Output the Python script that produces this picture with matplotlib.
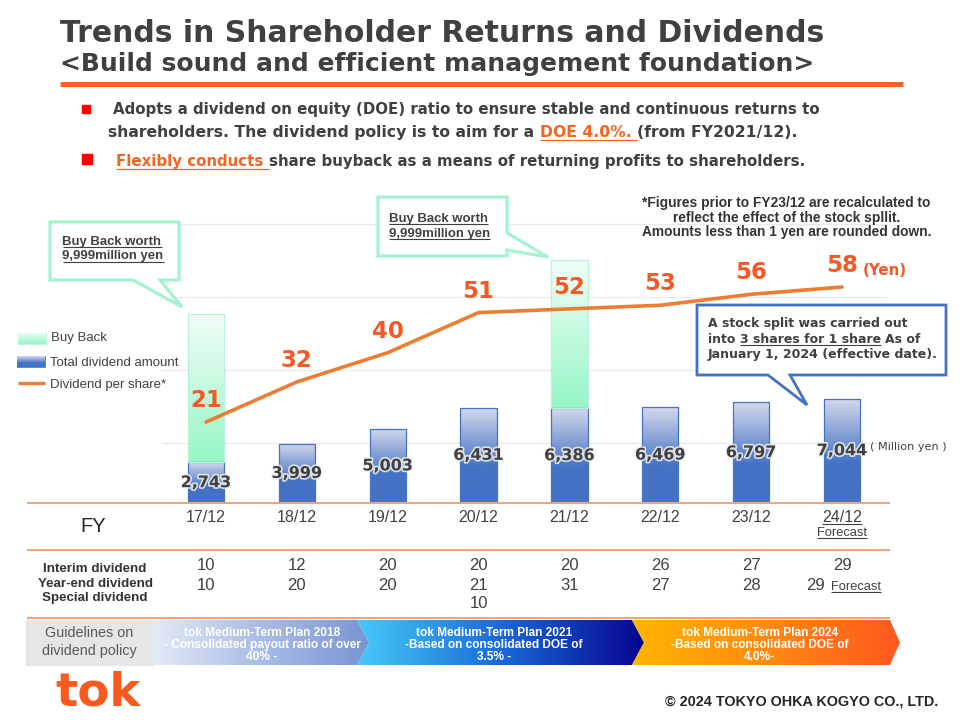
import numpy as np
import matplotlib
matplotlib.use('Agg')
import matplotlib.pyplot as plt
from matplotlib.patches import Polygon, Rectangle
from matplotlib.colors import LinearSegmentedColormap
from matplotlib import patheffects as pe

# ---------------- data ----------------
fy_labels = ['17/12', '18/12', '19/12', '20/12', '21/12', '22/12', '23/12', '24/12']
total_dividend = [2743, 3999, 5003, 6431, 6386, 6469, 6797, 7044]   # million yen
buyback = [9999, 0, 0, 0, 9999, 0, 0, 0]                             # million yen
dps = [21, 32, 40, 51, 52, 53, 56, 58]                                # yen
interim = ['10', '12', '20', '20', '20', '26', '27', '29']
year_end = ['10', '20', '20', '21', '31', '27', '28', '29']
special = ['', '', '', '10', '', '', '', '']
row_labels = ['Interim dividend', 'Year-end dividend', 'Special dividend']
plans = [
    ['tok Medium-Term Plan 2018', '- Consolidated payout ratio of over', '40% -'],
    ['tok Medium-Term Plan 2021', '-Based on consolidated DOE of', '3.5% -'],
    ['tok Medium-Term Plan 2024', '-Based on consolidated DOE of', '4.0%-'],
]

# ---------------- style ----------------
W, H = 960, 720
DARK = '#404040'
ORANGE = '#f26522'
NUM_OR = '#f15a24'
LINE_OR = '#ed7d31'
RULE = '#f3a47c'
BLUE = '#4472c4'
FV = 'DejaVu Sans'
FA = 'Liberation Sans'

fig = plt.figure(figsize=(9.6, 7.2), dpi=100)
fig.patch.set_facecolor('white')
R = fig.canvas.get_renderer()


def grad(stops, n=256, horizontal=False):
    cmap = LinearSegmentedColormap.from_list('g', stops)
    arr = cmap(np.linspace(0, 1, n))
    return arr[None, :, :] if horizontal else arr[:, None, :]


BLUE_G = grad([(0, '#d4d9ec'), (0.62, '#4472c4'), (1, '#4472c4')])
GREEN_G = grad([(0, '#f2fdf8'), (1, '#95f6c5')])

# ---------------- chart axes ----------------
X0, X1, YT, YB = 27, 890, 200, 503
ax = fig.add_axes([X0 / W, 1 - YB / H, (X1 - X0) / W, (YB - YT) / H])
ax2 = ax.twinx()
for a in (ax, ax2):
    a.set_xticks([])
    a.set_yticks([])
    for s in a.spines.values():
        s.set_visible(False)
    a.patch.set_alpha(0)

xs = np.arange(len(fy_labels))
step_px = 90.86
XL = (-(206 - X0) / step_px, (X1 - 206) / step_px)
BAR_MAX = (YB - YT) / 0.01483
L0 = -(YB - 498.7) / 3.65
L1 = L0 + (YB - YT) / 3.65

# gridlines (line-axis units converted to bar-axis units)
grid_line_units = [15.3, 35.3, 55.3, 75.3]
ax.hlines([(g - L0) / (L1 - L0) * BAR_MAX for g in grid_line_units], -0.5, 7.5,
          color='#e9e9e9', lw=0.9, zorder=0)

bw = 0.40
b_div = ax.bar(xs, total_dividend, bw, facecolor='none', edgecolor=BLUE, lw=0.9, zorder=3)
b_bb = ax.bar(xs, buyback, bw, bottom=total_dividend, facecolor='none',
              edgecolor='#b4f3d6', lw=0.9, zorder=3)
for bars, g in ((b_div, BLUE_G), (b_bb, GREEN_G)):
    for rect in bars:
        h = rect.get_height()
        if h <= 0:
            rect.set_visible(False)
            continue
        x, y, w = rect.get_x(), rect.get_y(), rect.get_width()
        im = ax.imshow(g, extent=(x, x + w, y, y + h), aspect='auto', origin='upper',
                       zorder=2, interpolation='bilinear')
        im.set_clip_path(rect)

for x, v in zip(xs, total_dividend):
    ax.text(x, v / 2, f'{v:,}', ha='center', va='center', fontsize=11.5, fontweight='bold',
            color=DARK, family=FV, zorder=6,
            path_effects=[pe.withStroke(linewidth=2.4, foreground='#f0f0f0', alpha=0.85)])

ax.set_xlim(*XL)
ax.set_ylim(0, BAR_MAX)
ax.set_aspect('auto')

ax2.plot(xs, dps, color=LINE_OR, lw=2.6, solid_capstyle='round', zorder=4)
for x, v in zip(xs, dps):
    ax2.annotate(str(v), (x, v), xytext=(0, 15.5), textcoords='offset points', ha='center',
                 va='center', fontsize=16.5, fontweight='bold', color=NUM_OR, family=FV, zorder=6)
ax2.set_ylim(L0, L1)
ax2.set_xlim(*XL)

# ---------------- overlay axes in pixel coords ----------------
ov = fig.add_axes([0, 0, 1, 1], zorder=10)
ov.set_xlim(0, W)
ov.set_ylim(H, 0)
ov.axis('off')
ov.patch.set_alpha(0)


def colx(i):
    return ax.transData.transform((i, 0))[0]


def txt(x, y, s, size=10, color=DARK, weight='normal', family=FV, ha='left', va='baseline',
        width=None, underline=False, ul_off=2.2, ul_lw=0.8, **kw):
    t = ov.text(x, y, s, fontsize=size, color=color, fontweight=weight, family=family,
                ha=ha, va=va, **kw)
    if width:
        w = t.get_window_extent(R).width
        t.set_fontsize(size * width / w)
    if underline:
        bb = t.get_window_extent(R)
        ov.plot([bb.x0, bb.x1], [y + ul_off, y + ul_off], color=color, lw=ul_lw,
                solid_capstyle='butt')
    return t


def space_w(size, weight, family):
    a = ov.text(0, 0, 'x x', fontsize=size, fontweight=weight, family=family)
    b = ov.text(0, 0, 'xx', fontsize=size, fontweight=weight, family=family)
    w = a.get_window_extent(R).width - b.get_window_extent(R).width
    a.remove()
    b.remove()
    return w


def runs(x, y, parts, size, weight='bold', family=FV, width=None, ul_off=2.5, ul_lw=0.9):
    # parts: (text, color, underline_mode, gap_after)  underline_mode: '', 'u', 'U'(incl. gap)
    def build(sz):
        sw = space_w(sz, weight, family)
        cx = x
        items = []
        for s, c, u, g in parts:
            t = ov.text(cx, y, s, fontsize=sz, color=c, fontweight=weight, family=family,
                        ha='left', va='baseline')
            bb = t.get_window_extent(R)
            items.append((t, c, u, bb.x0, bb.x1 + (sw if u == 'U' else 0)))
            cx = bb.x1 + (sw if g else 0)
        return items, cx

    items, end = build(size)
    if width:
        for it in items:
            it[0].remove()
        size = size * width / (end - x)
        items, end = build(size)
    for t, c, u, a0, a1 in items:
        if u:
            ov.plot([a0, a1], [y + ul_off, y + ul_off], color=c, lw=ul_lw, solid_capstyle='butt')
    return size


# ---- header ----
txt(60, 42, 'Trends in Shareholder Returns and Dividends', size=20, weight='bold', width=766)
txt(60, 71, '<Build sound and efficient management foundation>', size=16, weight='bold', width=753)
ov.plot([60, 903], [84, 84], color=ORANGE, lw=3.6, solid_capstyle='butt')

ov.add_patch(Rectangle((82, 105), 8, 8, color='#ff0000'))
ov.add_patch(Rectangle((82, 154), 10, 10, color='#ff0000'))
bsize = runs(113, 114, [('Adopts a dividend on equity (DOE) ratio to ensure stable and continuous returns to',
                         DARK, '', False)], 11, width=706)
runs(108, 137, [('shareholders. The dividend policy is to aim for a', DARK, '', True),
                ('DOE 4.0%.', ORANGE, 'U', True),
                ('(from FY2021/12).', DARK, '', False)], bsize, width=687)
runs(116, 166, [('Flexibly conducts', ORANGE, 'U', True),
                ('share buyback as a means of returning profits to shareholders.', DARK, '', False)],
     bsize, width=688)

# ---- footnote ----
foot = ['*Figures prior to FY23/12 are recalculated to',
        'reflect the effect of the stock spllit.',
        'Amounts less than 1 yen are rounded down.']
t0 = txt(786.5, 206.7, foot[0], size=9, weight='bold', family=FA, ha='center', width=289,
         color='#333333')
fs = t0.get_fontsize()
txt(786.5, 221.7, foot[1], size=fs, weight='bold', family=FA, ha='center', color='#333333')
txt(786.5, 235.7, foot[2], size=fs, weight='bold', family=FA, ha='center', color='#333333')

# ---- legend ----
for (lx0, ly0, lx1, ly1), g in (((18, 332, 46, 344), GREEN_G), ((17, 356, 45, 367), BLUE_G)):
    r = Rectangle((lx0, ly0), lx1 - lx0, ly1 - ly0, facecolor='none',
                  edgecolor=(BLUE if g is BLUE_G else '#b4f3d6'), lw=0.6)
    ov.add_patch(r)
    im = ov.imshow(g, extent=(lx0, lx1, ly1, ly0), aspect='auto', origin='upper', zorder=1)
    im.set_clip_path(r)
ov.plot([18, 45], [383, 383], color=LINE_OR, lw=2.4, solid_capstyle='butt')
lt = txt(50, 366, 'Total dividend amount', size=9, family=FA, width=130)
lsz = lt.get_fontsize()
txt(51, 340.7, 'Buy Back', size=lsz, family=FA)
txt(50, 387.7, 'Dividend per share*', size=lsz, family=FA)

# ---- callouts ----
ov.add_patch(Polygon([(50, 222), (179, 222), (179, 280), (160, 280), (182, 307), (133, 280), (50, 280)],
                     closed=True, facecolor='white', edgecolor='#a4f2cf', lw=2.3, zorder=2))
ov.add_patch(Polygon([(378, 197), (507, 197), (507, 233), (548, 257), (507, 250), (507, 256), (378, 256)],
                     closed=True, facecolor='white', edgecolor='#a4f2cf', lw=2.3, zorder=2))
ov.add_patch(Polygon([(697, 305), (946, 305), (946, 375), (790, 375), (807, 405), (768, 375), (697, 375)],
                     closed=True, facecolor='white', edgecolor=BLUE, lw=2.0, zorder=2))

c1 = txt(62.5, 245, 'Buy Back worth', size=9, weight='bold', family=FA, width=100,
         underline=True, zorder=3)
csz = c1.get_fontsize()
txt(62.5, 259.5, '9,999million yen', size=csz, weight='bold', family=FA, underline=True, zorder=3)
txt(389.3, 221.7, 'Buy Back worth', size=csz, weight='bold', family=FA, underline=True, zorder=3)
txt(389.3, 236.7, '9,999million yen', size=csz, weight='bold', family=FA, underline=True, zorder=3)

s3 = txt(708, 358.3, 'January 1, 2024 (effective date).', size=10, weight='bold', width=230, zorder=3)
ssz = s3.get_fontsize()
txt(708, 326.7, 'A stock split was carried out', size=ssz, weight='bold', zorder=3)
runs(708, 342.7, [('into', DARK, '', True), ('3 shares for 1 share', DARK, 'u', True),
                  ('As of', DARK, '', False)], ssz, ul_off=2.2, ul_lw=0.8)

txt(863, 275, '(Yen)', size=11, weight='bold', color=NUM_OR, width=44)
txt(870, 447.3, '( Million yen )', size=8, va='center', width=77)

# ---- table ----
for yy in (503, 550, 618):
    ov.plot([27, 890], [yy, yy], color=RULE, lw=1.5, solid_capstyle='butt')

txt(93, 532, 'FY', size=14.5, family=FA, ha='center', color='#262626')
for i, lab in enumerate(fy_labels):
    txt(colx(i), 521.7, lab, size=11.5, family=FA, ha='center', color=DARK,
        underline=(i == len(fy_labels) - 1), ul_off=2.5)
ft = txt(colx(len(fy_labels) - 1), 536, 'Forecast', size=8.5, family=FA, ha='center',
         width=50, underline=True, ul_off=2.2)

rl = txt(95, 586.7, row_labels[1], size=9, weight='bold', family=FA, ha='center', width=115,
         color='#333333')
rsz = rl.get_fontsize()
txt(95, 572.5, row_labels[0], size=rsz, weight='bold', family=FA, ha='center', color='#333333')
txt(95, 601, row_labels[2], size=rsz, weight='bold', family=FA, ha='center', color='#333333')

last = len(fy_labels) - 1
for i in range(len(fy_labels)):
    cx = colx(i)
    txt(cx, 570.5, interim[i], size=12, family=FA, ha='center')
    if i == last:
        txt(cx - 27, 589.5, year_end[i], size=12, family=FA, ha='center')
        txt(cx - 11, 589.5, 'Forecast', size=ft.get_fontsize(), family=FA, underline=True, ul_off=2.2)
    else:
        txt(cx, 589.5, year_end[i], size=12, family=FA, ha='center')
    if special[i]:
        txt(cx, 607.5, special[i], size=12, family=FA, ha='center')

# ---- guidelines band ----
BY0, BY1, BM = 620, 665, 642.5
ov.add_patch(Rectangle((26, BY0), 127, BY1 - BY0, color='#e7e6e6', zorder=1))
gt = txt(89, 655, 'dividend policy', size=9, family=FA, ha='center', color='#595959', width=95)
txt(89, 637, 'Guidelines on', size=gt.get_fontsize(), family=FA, ha='center', color='#595959')

segs = [
    ([(153, BY0), (357, BY0), (369, BM), (357, BY1), (153, BY1)],
     ['#e3eaf6', '#a8bce6', '#7a95d3']),
    ([(357, BY0), (632, BY0), (644, BM), (632, BY1), (357, BY1), (369, BM)],
     ['#46c9f9', '#1a6ad6', '#050590']),
    ([(632, BY0), (890, BY0), (900, BM), (890, BY1), (632, BY1), (644, BM)],
     ['#ffb500', '#ff8a10', '#ff5820']),
]
for pts, cols in segs:
    poly = Polygon(pts, closed=True, facecolor='none', edgecolor='none', zorder=1)
    ov.add_patch(poly)
    xa = min(p[0] for p in pts)
    xb = max(p[0] for p in pts)
    im = ov.imshow(grad(cols, horizontal=True), extent=(xa, xb, BY1, BY0), aspect='auto',
                   origin='upper', zorder=1, interpolation='bilinear')
    im.set_clip_path(poly)

bt = txt(262, 648.3, plans[0][1], size=8, weight='bold', family=FA, ha='center', color='white',
         width=197, zorder=3)
bsz = bt.get_fontsize()
centers = [262, 494, 760]
for k, lines in enumerate(plans):
    for j, (s, yy) in enumerate(zip(lines, (636, 648.3, 660))):
        if k == 0 and j == 1:
            continue
        txt(centers[k], yy, s, size=bsz, weight='bold', family=FA, ha='center', color='white',
            zorder=3)

# ---- footer ----
txt(55, 705, 'tok', size=30, weight='bold', color='#fa5a1e', width=85)
txt(665, 705, '\u00a9 2024 TOKYO OHKA KOGYO CO., LTD.', size=10, weight='bold', family=FA,
    color='#262626', width=273)

ov.set_xlim(0, W)
ov.set_ylim(H, 0)
fig.savefig('out.png', dpi=100)
